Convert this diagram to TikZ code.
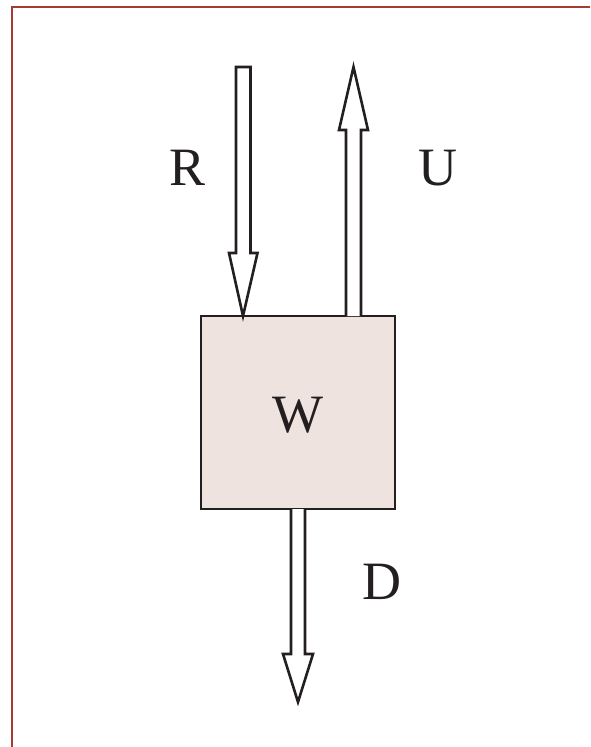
\documentclass[tikz,border=0pt]{standalone}
\usepackage{fontspec}
\setmainfont{Liberation Serif}
\definecolor{framered}{HTML}{A83A36}
\definecolor{boxfill}{HTML}{EFE3DF}
\definecolor{ink}{HTML}{231F20}
\begin{document}
\begin{tikzpicture}[x=1pt,y=-1pt,
  blockarrow/.style={draw=ink,line width=2.6pt,fill=white,line join=miter},
  lbl/.style={font=\fontsize{54}{54}\selectfont,text=ink,anchor=base,inner sep=0pt}]
\useasboundingbox (0,0) rectangle (590,747);
\fill[white] (0,0) rectangle (590,747);
% frame
\draw[framered,line width=2pt] (12,747) -- (12,7) -- (590,7);
% box
\node[draw=ink,fill=boxfill,line width=2.6pt,minimum width=194pt,minimum height=193pt,inner sep=0pt] (W) at (298,412.5) {};
\node[lbl] (Wl) at (298,432) {W};
% R arrow (down into box)
\draw[blockarrow] (236,67) -- (250.5,67) -- (250.5,253) -- (257.5,253) -- (243,316) -- (229,253) -- (236,253) -- cycle;
% U arrow (up out of box)
\draw[blockarrow] (346,316) -- (346,130) -- (339,130) -- (353.5,67) -- (368,130) -- (361,130) -- (361,316);
% D arrow (down out of box)
\draw[blockarrow] (291,509) -- (291,654) -- (283,654) -- (298,702) -- (313,654) -- (305,654) -- (305,509);
% labels
\node[lbl] (R) at (187.5,185) {R};
\node[lbl] (U) at (437.5,185) {U};
\node[lbl] (D) at (381.5,599) {D};
\end{tikzpicture}
\end{document}
